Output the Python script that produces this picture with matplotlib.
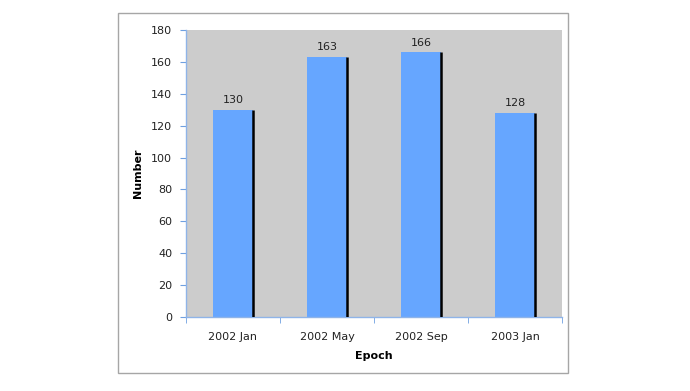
import matplotlib
matplotlib.use("Agg")
import matplotlib.pyplot as plt
from matplotlib.patches import Rectangle
import numpy as np

categories = ["2002 Jan", "2002 May", "2002 Sep", "2003 Jan"]
values = [130, 163, 166, 128]
y_ticks = [0, 20, 40, 60, 80, 100, 120, 140, 160, 180]

W, H = 690, 391
fig = plt.figure(figsize=(W / 100, H / 100), dpi=100)
fig.patch.set_facecolor("white")

# outer chart box
fig.patches.append(Rectangle((118 / W, 1 - 373 / H), (568 - 118) / W, (373 - 13) / H,
                             transform=fig.transFigure, facecolor="white",
                             edgecolor="#a6a6a6", linewidth=1.0, zorder=-5))

ax = fig.add_axes([186 / W, 1 - 317 / H, (562 - 186) / W, (317 - 30) / H])
ax.set_zorder(2)
ax.set_facecolor("#cccccc")

x = np.arange(len(categories))
bw = 0.43
bars = ax.bar(x, values, width=bw, color="#66a6ff", edgecolor="none", zorder=2)
for xi, v in zip(x, values):
    ax.plot([xi + bw / 2, xi + bw / 2], [0, v], color="black", linewidth=1.8,
            solid_capstyle="butt", zorder=3)
    ax.text(xi, v + 3, str(v), ha="center", va="bottom", fontsize=8, color="#222222")

ax.set_xlim(-0.5, len(categories) - 0.5)
ax.set_ylim(0, 180)
ax.set_yticks(y_ticks)
ax.set_xticks(x)
ax.set_xticklabels(categories)
ax.set_xticks(np.arange(len(categories) + 1) - 0.5, minor=True)
ax.tick_params(axis="x", which="major", length=0, pad=11, labelsize=8, labelcolor="#222222")
ax.tick_params(axis="x", which="minor", length=4, color="#6fa0e0", direction="out")
ax.tick_params(axis="y", length=4, color="#6fa0e0", labelsize=8, labelcolor="#222222", pad=6)

for s in ["top", "right"]:
    ax.spines[s].set_visible(False)
for s in ["left", "bottom"]:
    ax.spines[s].set_color("#8fb4e8")
    ax.spines[s].set_linewidth(1.0)

ax.set_xlabel("Epoch", fontsize=8, fontweight="bold", labelpad=6)
ax.set_ylabel("Number", fontsize=8, fontweight="bold", labelpad=6)

fig.savefig("out.png", dpi=100)
